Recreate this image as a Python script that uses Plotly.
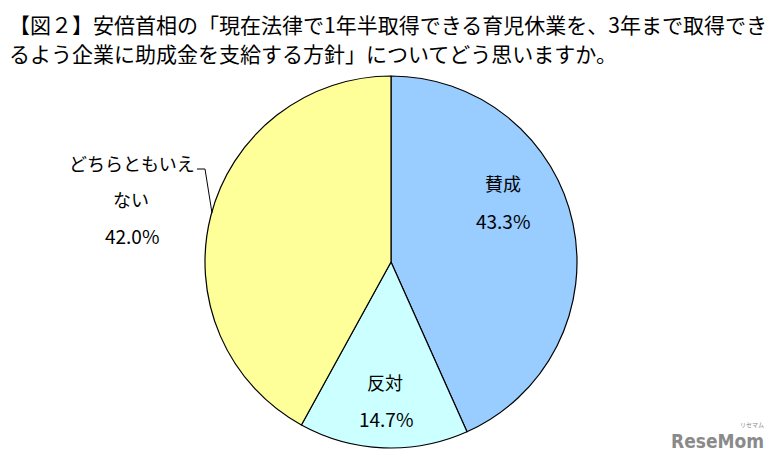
import plotly.graph_objects as go

# Data
categories = ["賛成", "反対", "どちらともいえない"]
values = [43.3, 14.7, 42.0]
colors = ["#99CCFF", "#CCFFFF", "#FFFF99"]
label_lines = [["賛成"], ["反対"], ["どちらともいえ", "ない"]]
title_lines = [
    "【図２】安倍首相の「現在法律で1年半取得できる育児休業を、3年まで取得でき",
    "るよう企業に助成金を支給する方針」についてどう思いますか。",
]

# The page body has an 8px default margin; the figure is sized to fit inside it.
OFF = 8
W, H = 780 - OFF, 461 - OFF
FONT = "Noto Sans CJK JP"

def px(x):
    return (x - OFF) / W

def py(y):
    return 1 - (y - OFF) / H

fig = go.Figure()
fig.add_trace(go.Pie(
    labels=categories,
    values=values,
    marker=dict(colors=colors, line=dict(color="#000000", width=1.2)),
    sort=False,
    direction="clockwise",
    rotation=0,
    textinfo="none",
    hoverinfo="label+percent",
    showlegend=False,
    domain=dict(x=[px(205), px(577)], y=[py(448), py(76)]),
))

anns = []
# title lines
anns.append(dict(text=title_lines[0], x=px(8), y=py(8), xref="paper", yref="paper",
                 xanchor="left", yanchor="top", align="left", showarrow=False,
                 borderpad=0,
                 font=dict(family=FONT, size=21, color="#000000")))
anns.append(dict(text=title_lines[1], x=px(8), y=py(37), xref="paper", yref="paper",
                 xanchor="left", yanchor="top", align="left", showarrow=False,
                 borderpad=0,
                 font=dict(family=FONT, size=21, color="#000000")))

# slice labels
name_pos = [[(503, 183)], [(385, 382)], [(132, 163), (131, 199)]]
val_pos = [(503, 221), (386, 418), (132, 235)]
for lines, v, npos, (vx, vy) in zip(label_lines, values, name_pos, val_pos):
    for line, (nx, ny) in zip(lines, npos):
        anns.append(dict(text=line, x=px(nx), y=py(ny), xref="paper", yref="paper",
                         xanchor="center", yanchor="middle", showarrow=False,
                         font=dict(family=FONT, size=18, color="#000000")))
    anns.append(dict(text=f"{v:.1f}%", x=px(vx), y=py(vy), xref="paper", yref="paper",
                     xanchor="center", yanchor="middle", showarrow=False,
                     font=dict(family=FONT, size=19, color="#000000")))

# watermark logo
anns.append(dict(text="<b>ReseMom</b>", x=px(717), y=py(441), xref="paper", yref="paper",
                 xanchor="center", yanchor="middle", showarrow=False,
                 font=dict(family="DejaVu Sans Condensed", size=19, color="#8a8a8a")))
anns.append(dict(text="リセマム", x=px(752), y=py(424), xref="paper", yref="paper",
                 xanchor="center", yanchor="middle", showarrow=False,
                 font=dict(family=FONT, size=6, color="#8a8a8a")))

fig.update_layout(
    width=W, height=H,
    margin=dict(l=0, r=0, t=0, b=0),
    paper_bgcolor="#ffffff",
    plot_bgcolor="#ffffff",
    annotations=anns,
    shapes=[dict(type="path", xref="paper", yref="paper",
                 path=f"M {px(197)} {py(169)} L {px(205)} {py(169)} L {px(212)} {py(213)}",
                 line=dict(color="#000000", width=1))],
)

fig.write_html("out.html")
